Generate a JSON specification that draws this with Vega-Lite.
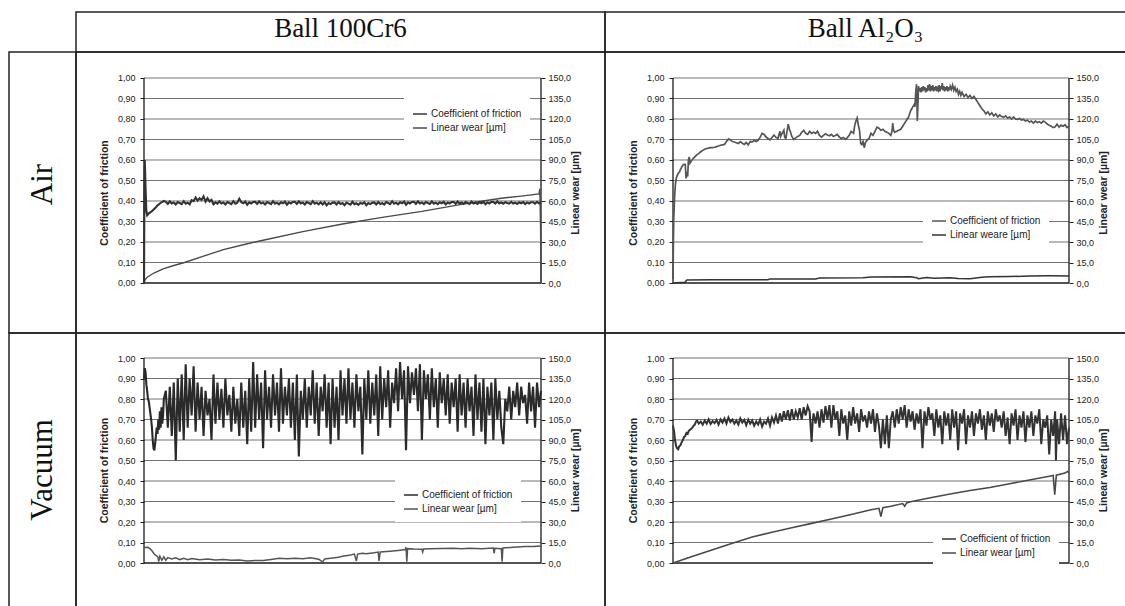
{
"$schema": "https://vega.github.io/schema/vega-lite/v6.json",
"background": "white",
"padding": {"left": 8, "top": 11, "right": -2, "bottom": -2},
"spacing": 0,
"bounds": "flush",
"columns": 3,
"resolve": {"scale": {"color": "independent"}, "legend": {"color": "independent"}},
"config": {
 "locale": {"number": {"decimal": ",", "thousands": " ", "grouping": [3], "currency": ["", ""]}},
 "font": "Liberation Sans",
 "axis": {"labelFont": "Liberation Sans", "labelFontSize": 9, "labelColor": "#222", "titleFont": "Liberation Sans", "titleFontSize": 10.5, "titleFontWeight": "bold", "titleColor": "#222", "tickColor": "#222", "tickWidth": 1, "domain": false, "grid": false},
 "legend": {"orient": "none", "title": null, "symbolType": "stroke", "symbolStrokeWidth": 1.5, "symbolSize": 196, "labelFont": "Liberation Sans", "labelFontSize": 10, "labelColor": "#222", "fillColor": "white", "padding": 8, "rowPadding": 1, "labelOffset": 3}
},
"datasets": {
 "grid": [{"g":0.1},{"g":0.2},{"g":0.3},{"g":0.4},{"g":0.5},{"g":0.6},{"g":0.7},{"g":0.8},{"g":0.9},{"g":1}],
 "cAC": [{"d":0,"v":0},{"d":1,"v":0.45},{"d":2,"v":0.6},{"d":4,"v":0.46},{"d":6,"v":0.35},{"d":8,"v":0.33},{"d":12,"v":0.34},{"d":16,"v":0.345},{"d":20,"v":0.35},{"d":25,"v":0.36},{"d":30,"v":0.37},{"d":35,"v":0.38},{"d":40,"v":0.388},{"d":45,"v":0.395},{"d":50,"v":0.4},
  {"d":55,"v":0.396},{"d":60,"v":0.386},{"d":65,"v":0.398},{"d":70,"v":0.388},{"d":75,"v":0.393},{"d":80,"v":0.383},{"d":85,"v":0.395},{"d":90,"v":0.39},{"d":95,"v":0.385},{"d":100,"v":0.399},
  {"d":105,"v":0.387},{"d":110,"v":0.392},{"d":115,"v":0.384},{"d":120,"v":0.404},{"d":125,"v":0.399},{"d":130,"v":0.417},{"d":135,"v":0.402},{"d":140,"v":0.413},{"d":145,"v":0.405},{"d":150,"v":0.422},
  {"d":155,"v":0.397},{"d":160,"v":0.413},{"d":165,"v":0.398},{"d":170,"v":0.405},{"d":175,"v":0.384},{"d":180,"v":0.393},{"d":185,"v":0.387},{"d":190,"v":0.398},{"d":195,"v":0.388},{"d":200,"v":0.393},
  {"d":205,"v":0.383},{"d":210,"v":0.395},{"d":215,"v":0.39},{"d":220,"v":0.385},{"d":225,"v":0.399},{"d":230,"v":0.387},{"d":235,"v":0.392},{"d":240,"v":0.411},{"d":245,"v":0.394},{"d":250,"v":0.389},
  {"d":255,"v":0.397},{"d":260,"v":0.382},{"d":265,"v":0.393},{"d":270,"v":0.388},{"d":275,"v":0.395},{"d":280,"v":0.396},{"d":285,"v":0.386},{"d":290,"v":0.398},{"d":295,"v":0.388},{"d":300,"v":0.393},
  {"d":305,"v":0.383},{"d":310,"v":0.395},{"d":315,"v":0.39},{"d":320,"v":0.385},{"d":325,"v":0.399},{"d":330,"v":0.387},{"d":335,"v":0.392},{"d":340,"v":0.384},{"d":345,"v":0.394},{"d":350,"v":0.389},
  {"d":355,"v":0.397},{"d":360,"v":0.382},{"d":365,"v":0.393},{"d":370,"v":0.388},{"d":375,"v":0.395},{"d":380,"v":0.396},{"d":385,"v":0.386},{"d":390,"v":0.398},{"d":395,"v":0.388},{"d":400,"v":0.393},
  {"d":405,"v":0.383},{"d":410,"v":0.395},{"d":415,"v":0.39},{"d":420,"v":0.385},{"d":425,"v":0.399},{"d":430,"v":0.387},{"d":435,"v":0.392},{"d":440,"v":0.384},{"d":445,"v":0.394},{"d":450,"v":0.383},
  {"d":455,"v":0.394},{"d":460,"v":0.379},{"d":465,"v":0.39},{"d":470,"v":0.385},{"d":475,"v":0.392},{"d":480,"v":0.393},{"d":485,"v":0.383},{"d":490,"v":0.395},{"d":495,"v":0.385},{"d":500,"v":0.39},
  {"d":505,"v":0.38},{"d":510,"v":0.392},{"d":515,"v":0.387},{"d":520,"v":0.382},{"d":525,"v":0.396},{"d":530,"v":0.384},{"d":535,"v":0.389},{"d":540,"v":0.381},{"d":545,"v":0.391},{"d":550,"v":0.386},
  {"d":555,"v":0.394},{"d":560,"v":0.379},{"d":565,"v":0.39},{"d":570,"v":0.385},{"d":575,"v":0.392},{"d":580,"v":0.393},{"d":585,"v":0.383},{"d":590,"v":0.395},{"d":595,"v":0.385},{"d":600,"v":0.39},
  {"d":605,"v":0.383},{"d":610,"v":0.395},{"d":615,"v":0.39},{"d":620,"v":0.385},{"d":625,"v":0.399},{"d":630,"v":0.387},{"d":635,"v":0.392},{"d":640,"v":0.384},{"d":645,"v":0.394},{"d":650,"v":0.389},
  {"d":655,"v":0.397},{"d":660,"v":0.382},{"d":665,"v":0.393},{"d":670,"v":0.388},{"d":675,"v":0.395},{"d":680,"v":0.396},{"d":685,"v":0.386},{"d":690,"v":0.398},{"d":695,"v":0.388},{"d":700,"v":0.393},
  {"d":705,"v":0.385},{"d":710,"v":0.395},{"d":715,"v":0.39},{"d":720,"v":0.386},{"d":725,"v":0.398},{"d":730,"v":0.387},{"d":735,"v":0.392},{"d":740,"v":0.385},{"d":745,"v":0.394},{"d":750,"v":0.389},
  {"d":755,"v":0.396},{"d":760,"v":0.383},{"d":765,"v":0.393},{"d":770,"v":0.388},{"d":775,"v":0.395},{"d":780,"v":0.395},{"d":785,"v":0.386},{"d":790,"v":0.397},{"d":795,"v":0.388},{"d":800,"v":0.393},
  {"d":805,"v":0.386},{"d":810,"v":0.395},{"d":815,"v":0.39},{"d":820,"v":0.386},{"d":825,"v":0.397},{"d":830,"v":0.388},{"d":835,"v":0.392},{"d":840,"v":0.386},{"d":845,"v":0.394},{"d":850,"v":0.389},
  {"d":855,"v":0.396},{"d":860,"v":0.384},{"d":865,"v":0.393},{"d":870,"v":0.388},{"d":875,"v":0.395},{"d":880,"v":0.395},{"d":885,"v":0.387},{"d":890,"v":0.398},{"d":895,"v":0.388},{"d":900,"v":0.393},
  {"d":905,"v":0.387},{"d":910,"v":0.394},{"d":915,"v":0.39},{"d":920,"v":0.387},{"d":925,"v":0.396},{"d":930,"v":0.388},{"d":935,"v":0.392},{"d":940,"v":0.386},{"d":945,"v":0.394},{"d":950,"v":0.389},
  {"d":955,"v":0.395},{"d":960,"v":0.385},{"d":965,"v":0.393},{"d":970,"v":0.388},{"d":975,"v":0.394},{"d":980,"v":0.394},{"d":985,"v":0.387},{"d":990,"v":0.396},{"d":995,"v":0.389},{"d":1000,"v":0.392}],
 "wAC": [{"d":0,"v":0},{"d":3,"v":2.5},{"d":8,"v":4.2},{"d":15,"v":5.5},{"d":25,"v":7.3},{"d":40,"v":9.2},{"d":50,"v":10.5},{"d":75,"v":12.8},{"d":100,"v":14.8},{"d":150,"v":19.7},{"d":200,"v":24.4},{"d":250,"v":28},{"d":300,"v":31.3},{"d":400,"v":37.6},{"d":500,"v":43.2},{"d":600,"v":48},{"d":700,"v":52.4},{"d":800,"v":57.5},{"d":850,"v":59.8},{"d":900,"v":62},{"d":950,"v":63.6},{"d":995,"v":65.2},{"d":997,"v":69},{"d":999,"v":40},{"d":1000,"v":0}],
 "cAA": [{"d":0,"v":0.02},{"d":1,"v":0.2},{"d":2,"v":0.32},{"d":4,"v":0.42},{"d":6,"v":0.48},{"d":8,"v":0.51},{"d":10,"v":0.52},{"d":13,"v":0.535},{"d":16,"v":0.54},{"d":19,"v":0.555},{"d":22,"v":0.565},{"d":25,"v":0.575},{"d":28,"v":0.58},{"d":31,"v":0.578},{"d":33,"v":0.51},{"d":35,"v":0.53},{"d":37,"v":0.52},{"d":39,"v":0.6},{"d":41,"v":0.615},{"d":43,"v":0.585},{"d":46,"v":0.595},{"d":50,"v":0.605},{"d":55,"v":0.615},{"d":60,"v":0.625},{"d":65,"v":0.632},{"d":70,"v":0.64},{"d":75,"v":0.647},{"d":80,"v":0.652},{"d":85,"v":0.656},{"d":90,"v":0.658},{"d":95,"v":0.66},{"d":100,"v":0.66},{"d":105,"v":0.662},{"d":110,"v":0.665},{"d":115,"v":0.668},{"d":120,"v":0.672},{"d":125,"v":0.674},{"d":130,"v":0.676},{"d":135,"v":0.69},{"d":140,"v":0.703},{"d":145,"v":0.698},{"d":150,"v":0.69},{"d":155,"v":0.688},{"d":160,"v":0.684},{"d":165,"v":0.68},{"d":170,"v":0.69},{"d":175,"v":0.682},{"d":180,"v":0.676},{"d":185,"v":0.685},{"d":190,"v":0.674},{"d":195,"v":0.69},{"d":200,"v":0.688},{"d":205,"v":0.695},{"d":210,"v":0.69},{"d":215,"v":0.696},{"d":220,"v":0.71},{"d":225,"v":0.73},{"d":230,"v":0.725},{"d":235,"v":0.712},{"d":240,"v":0.705},{"d":245,"v":0.698},{"d":250,"v":0.71},{"d":255,"v":0.722},{"d":260,"v":0.71},{"d":265,"v":0.705},{"d":270,"v":0.74},{"d":272,"v":0.715},{"d":275,"v":0.728},{"d":280,"v":0.745},{"d":282,"v":0.71},{"d":285,"v":0.705},{"d":288,"v":0.74},{"d":291,"v":0.775},{"d":294,"v":0.75},{"d":297,"v":0.735},{"d":300,"v":0.715},{"d":305,"v":0.7},{"d":310,"v":0.708},{"d":315,"v":0.715},{"d":320,"v":0.72},{"d":325,"v":0.735},{"d":330,"v":0.745},{"d":335,"v":0.73},{"d":340,"v":0.725},{"d":345,"v":0.74},{"d":350,"v":0.73},{"d":355,"v":0.735},{"d":360,"v":0.73},{"d":365,"v":0.74},{"d":370,"v":0.72},{"d":375,"v":0.712},{"d":380,"v":0.72},{"d":385,"v":0.728},{"d":390,"v":0.722},{"d":395,"v":0.718},{"d":400,"v":0.725},{"d":405,"v":0.715},{"d":410,"v":0.72},{"d":415,"v":0.725},{"d":420,"v":0.712},{"d":425,"v":0.705},{"d":430,"v":0.71},{"d":435,"v":0.702},{"d":440,"v":0.708},{"d":445,"v":0.72},{"d":450,"v":0.74},{"d":453,"v":0.735},{"d":456,"v":0.73},{"d":459,"v":0.77},{"d":462,"v":0.79},{"d":465,"v":0.805},{"d":468,"v":0.77},{"d":471,"v":0.745},{"d":474,"v":0.68},{"d":477,"v":0.675},{"d":480,"v":0.69},{"d":483,"v":0.66},{"d":486,"v":0.685},{"d":489,"v":0.695},{"d":492,"v":0.7},{"d":495,"v":0.705},{"d":500,"v":0.73},{"d":505,"v":0.72},{"d":510,"v":0.74},{"d":515,"v":0.76},{"d":520,"v":0.755},{"d":525,"v":0.745},{"d":530,"v":0.75},{"d":535,"v":0.74},{"d":540,"v":0.735},{"d":545,"v":0.73},{"d":550,"v":0.72},{"d":553,"v":0.74},{"d":555,"v":0.78},{"d":557,"v":0.745},{"d":560,"v":0.735},{"d":565,"v":0.74},{"d":570,"v":0.745},{"d":575,"v":0.75},{"d":580,"v":0.765},{"d":585,"v":0.78},{"d":590,"v":0.795},{"d":595,"v":0.81},{"d":600,"v":0.84},{"d":603,"v":0.85},{"d":606,"v":0.86},{"d":609,"v":0.87},{"d":611,"v":0.86},{"d":613,"v":0.93},{"d":615,"v":0.97},{"d":617,"v":0.79},{"d":618,"v":0.84},{"d":620,"v":0.96},{"d":622,"v":0.935},{"d":624,"v":0.95},{"d":626,"v":0.93},{"d":628,"v":0.955},{"d":630,"v":0.935},{"d":632,"v":0.96},{"d":634,"v":0.94},{"d":636,"v":0.955},{"d":638,"v":0.93},{"d":640,"v":0.95},{"d":642,"v":0.935},{"d":644,"v":0.965},{"d":646,"v":0.94},{"d":648,"v":0.97},{"d":650,"v":0.935},{"d":652,"v":0.96},{"d":654,"v":0.94},{"d":656,"v":0.965},{"d":658,"v":0.935},{"d":660,"v":0.955},{"d":662,"v":0.94},{"d":664,"v":0.96},{"d":666,"v":0.935},{"d":668,"v":0.95},{"d":670,"v":0.94},{"d":672,"v":0.965},{"d":674,"v":0.935},{"d":676,"v":0.96},{"d":678,"v":0.945},{"d":680,"v":0.975},{"d":682,"v":0.94},{"d":684,"v":0.96},{"d":686,"v":0.935},{"d":688,"v":0.955},{"d":690,"v":0.94},{"d":692,"v":0.96},{"d":694,"v":0.935},{"d":696,"v":0.955},{"d":698,"v":0.94},{"d":700,"v":0.96},{"d":703,"v":0.945},{"d":706,"v":0.965},{"d":709,"v":0.94},{"d":712,"v":0.955},{"d":715,"v":0.935},{"d":718,"v":0.945},{"d":721,"v":0.92},{"d":724,"v":0.935},{"d":727,"v":0.915},{"d":730,"v":0.93},{"d":735,"v":0.91},{"d":740,"v":0.92},{"d":745,"v":0.905},{"d":750,"v":0.915},{"d":755,"v":0.9},{"d":760,"v":0.91},{"d":765,"v":0.895},{"d":770,"v":0.88},{"d":775,"v":0.865},{"d":780,"v":0.85},{"d":785,"v":0.84},{"d":790,"v":0.825},{"d":795,"v":0.835},{"d":800,"v":0.82},{"d":805,"v":0.83},{"d":810,"v":0.815},{"d":815,"v":0.825},{"d":820,"v":0.81},{"d":825,"v":0.82},{"d":830,"v":0.812},{"d":835,"v":0.808},{"d":840,"v":0.815},{"d":845,"v":0.805},{"d":850,"v":0.81},{"d":855,"v":0.8},{"d":860,"v":0.81},{"d":865,"v":0.8},{"d":870,"v":0.798},{"d":875,"v":0.802},{"d":880,"v":0.795},{"d":885,"v":0.798},{"d":890,"v":0.79},{"d":895,"v":0.794},{"d":900,"v":0.785},{"d":905,"v":0.79},{"d":910,"v":0.78},{"d":915,"v":0.79},{"d":920,"v":0.783},{"d":925,"v":0.787},{"d":930,"v":0.78},{"d":935,"v":0.79},{"d":940,"v":0.785},{"d":945,"v":0.775},{"d":950,"v":0.77},{"d":955,"v":0.765},{"d":960,"v":0.758},{"d":965,"v":0.762},{"d":970,"v":0.775},{"d":975,"v":0.76},{"d":980,"v":0.77},{"d":985,"v":0.765},{"d":990,"v":0.772},{"d":995,"v":0.758},{"d":1000,"v":0.765}],
 "wAA": [{"d":0,"v":0},{"d":30,"v":0.6},{"d":35,"v":2.2},{"d":100,"v":2.3},{"d":240,"v":2.4},{"d":245,"v":3},{"d":360,"v":3},{"d":370,"v":3.7},{"d":480,"v":3.8},{"d":500,"v":4.4},{"d":600,"v":4.5},{"d":615,"v":3.9},{"d":620,"v":3.2},{"d":640,"v":4},{"d":660,"v":3.5},{"d":700,"v":3.8},{"d":720,"v":3.3},{"d":750,"v":3.2},{"d":780,"v":4.2},{"d":800,"v":4.5},{"d":850,"v":4.7},{"d":900,"v":5.1},{"d":950,"v":5.3},{"d":1000,"v":5.2}],
 "cVC": [{"d":0,"v":0.9},{"d":2,"v":0.95},{"d":4,"v":0.93},{"d":6,"v":0.87},{"d":8,"v":0.84},{"d":10,"v":0.8},{"d":12,"v":0.79},{"d":14,"v":0.76},{"d":16,"v":0.73},{"d":18,"v":0.7},{"d":20,"v":0.66},{"d":22,"v":0.6},{"d":24,"v":0.56},{"d":26,"v":0.55},{"d":28,"v":0.58},{"d":30,"v":0.62},{"d":32,"v":0.66},{"d":34,"v":0.63},{"d":36,"v":0.7},{"d":38,"v":0.65},{"d":40,"v":0.74},{"d":42,"v":0.66},{"d":44,"v":0.76},{"d":46,"v":0.68},{"d":48,"v":0.72},{"d":50,"v":0.8},
  {"d":55,"v":0.84},{"d":60,"v":0.66},{"d":65,"v":0.86},{"d":70,"v":0.62},{"d":75,"v":0.88},{"d":80,"v":0.5},{"d":85,"v":0.9},{"d":90,"v":0.64},{"d":95,"v":0.92},{"d":100,"v":0.6},
  {"d":105,"v":0.97},{"d":110,"v":0.66},{"d":115,"v":0.9},{"d":120,"v":0.72},{"d":125,"v":0.96},{"d":130,"v":0.64},{"d":135,"v":0.88},{"d":140,"v":0.7},{"d":145,"v":0.86},{"d":150,"v":0.62},
  {"d":155,"v":0.84},{"d":160,"v":0.72},{"d":165,"v":0.8},{"d":170,"v":0.6},{"d":175,"v":0.92},{"d":180,"v":0.68},{"d":185,"v":0.88},{"d":190,"v":0.7},{"d":195,"v":0.85},{"d":200,"v":0.66},
  {"d":205,"v":0.9},{"d":210,"v":0.72},{"d":215,"v":0.82},{"d":220,"v":0.64},{"d":225,"v":0.86},{"d":230,"v":0.68},{"d":235,"v":0.8},{"d":240,"v":0.62},{"d":245,"v":0.88},{"d":250,"v":0.66},
  {"d":255,"v":0.84},{"d":260,"v":0.58},{"d":265,"v":0.9},{"d":270,"v":0.64},{"d":275,"v":0.98},{"d":280,"v":0.66},{"d":285,"v":0.92},{"d":290,"v":0.7},{"d":295,"v":0.88},{"d":300,"v":0.56},
  {"d":305,"v":0.94},{"d":310,"v":0.7},{"d":315,"v":0.86},{"d":320,"v":0.66},{"d":325,"v":0.92},{"d":330,"v":0.72},{"d":335,"v":0.88},{"d":340,"v":0.64},{"d":345,"v":0.95},{"d":350,"v":0.68},
  {"d":355,"v":0.86},{"d":360,"v":0.72},{"d":365,"v":0.9},{"d":370,"v":0.66},{"d":375,"v":0.88},{"d":380,"v":0.6},{"d":385,"v":0.92},{"d":390,"v":0.52},{"d":395,"v":0.84},{"d":400,"v":0.7},
  {"d":405,"v":0.9},{"d":410,"v":0.66},{"d":415,"v":0.86},{"d":420,"v":0.72},{"d":425,"v":0.94},{"d":430,"v":0.68},{"d":435,"v":0.88},{"d":440,"v":0.62},{"d":445,"v":0.86},{"d":450,"v":0.74},
  {"d":455,"v":0.92},{"d":460,"v":0.66},{"d":465,"v":0.88},{"d":470,"v":0.58},{"d":475,"v":0.9},{"d":480,"v":0.66},{"d":485,"v":0.86},{"d":490,"v":0.6},{"d":495,"v":0.94},{"d":500,"v":0.72},
  {"d":505,"v":0.9},{"d":510,"v":0.68},{"d":515,"v":0.95},{"d":520,"v":0.7},{"d":525,"v":0.88},{"d":530,"v":0.66},{"d":535,"v":0.92},{"d":540,"v":0.74},{"d":545,"v":0.86},{"d":550,"v":0.53},
  {"d":555,"v":0.9},{"d":560,"v":0.7},{"d":565,"v":0.94},{"d":570,"v":0.68},{"d":575,"v":0.88},{"d":580,"v":0.72},{"d":585,"v":0.92},{"d":590,"v":0.62},{"d":595,"v":0.96},{"d":600,"v":0.7},
  {"d":605,"v":0.9},{"d":610,"v":0.76},{"d":615,"v":0.94},{"d":620,"v":0.66},{"d":625,"v":0.88},{"d":630,"v":0.78},{"d":635,"v":0.95},{"d":640,"v":0.74},{"d":645,"v":0.98},{"d":650,"v":0.8},
  {"d":655,"v":0.94},{"d":660,"v":0.55},{"d":665,"v":0.96},{"d":670,"v":0.78},{"d":675,"v":0.93},{"d":680,"v":0.82},{"d":685,"v":0.95},{"d":690,"v":0.74},{"d":695,"v":0.97},{"d":700,"v":0.6},
  {"d":705,"v":0.94},{"d":710,"v":0.8},{"d":715,"v":0.92},{"d":720,"v":0.7},{"d":725,"v":0.95},{"d":730,"v":0.76},{"d":735,"v":0.9},{"d":740,"v":0.66},{"d":745,"v":0.93},{"d":750,"v":0.78},
  {"d":755,"v":0.9},{"d":760,"v":0.72},{"d":765,"v":0.92},{"d":770,"v":0.68},{"d":775,"v":0.88},{"d":780,"v":0.76},{"d":785,"v":0.9},{"d":790,"v":0.64},{"d":795,"v":0.92},{"d":800,"v":0.72},
  {"d":805,"v":0.88},{"d":810,"v":0.66},{"d":815,"v":0.9},{"d":820,"v":0.74},{"d":825,"v":0.86},{"d":830,"v":0.62},{"d":835,"v":0.92},{"d":840,"v":0.7},{"d":845,"v":0.88},{"d":850,"v":0.64},
  {"d":855,"v":0.9},{"d":860,"v":0.58},{"d":865,"v":0.86},{"d":870,"v":0.72},{"d":875,"v":0.88},{"d":880,"v":0.6},{"d":885,"v":0.9},{"d":890,"v":0.7},{"d":895,"v":0.84},{"d":900,"v":0.66},
  {"d":905,"v":0.58},{"d":910,"v":0.8},{"d":915,"v":0.74},{"d":920,"v":0.86},{"d":925,"v":0.7},{"d":930,"v":0.84},{"d":935,"v":0.76},{"d":940,"v":0.88},{"d":945,"v":0.72},{"d":950,"v":0.86},
  {"d":955,"v":0.78},{"d":960,"v":0.82},{"d":965,"v":0.68},{"d":970,"v":0.88},{"d":975,"v":0.74},{"d":980,"v":0.86},{"d":985,"v":0.66},{"d":990,"v":0.88},{"d":995,"v":0.76},{"d":1000,"v":0.84}],
 "wVC": [{"d":0,"v":11.3},{"d":10,"v":11.5},{"d":15,"v":10.5},{"d":20,"v":9},{"d":25,"v":7},{"d":30,"v":5.5},{"d":35,"v":4.5},{"d":37,"v":1},{"d":40,"v":5},{"d":45,"v":2},{"d":50,"v":4.5},{"d":55,"v":2},{"d":60,"v":4},{"d":70,"v":3},{"d":80,"v":3.8},{"d":90,"v":2.5},{"d":100,"v":3.5},{"d":110,"v":2.4},{"d":120,"v":3.3},{"d":140,"v":2.4},{"d":160,"v":3},{"d":180,"v":2.2},{"d":200,"v":2.6},{"d":220,"v":2},{"d":240,"v":2.2},{"d":260,"v":1.4},{"d":280,"v":1.8},{"d":300,"v":1.8},{"d":320,"v":2.6},{"d":340,"v":3.5},{"d":360,"v":3.2},{"d":380,"v":3.5},{"d":400,"v":3.2},{"d":420,"v":3.8},{"d":440,"v":2.8},{"d":450,"v":0.8},{"d":455,"v":3},{"d":470,"v":3.5},{"d":490,"v":4.2},{"d":500,"v":5},{"d":520,"v":5.8},{"d":530,"v":6.5},{"d":535,"v":1.5},{"d":538,"v":6.5},{"d":550,"v":7.2},{"d":560,"v":6.8},{"d":580,"v":7.5},{"d":590,"v":8},{"d":592,"v":1.5},{"d":595,"v":8},{"d":620,"v":8.6},{"d":640,"v":9.2},{"d":658,"v":9.8},{"d":660,"v":11.5},{"d":662,"v":1},{"d":664,"v":10.5},{"d":680,"v":10.2},{"d":700,"v":10},{"d":702,"v":8},{"d":704,"v":10.2},{"d":720,"v":10.5},{"d":750,"v":10.6},{"d":780,"v":10.8},{"d":800,"v":10.5},{"d":820,"v":10.8},{"d":850,"v":10.5},{"d":880,"v":11},{"d":882,"v":7},{"d":884,"v":10.8},{"d":900,"v":10.5},{"d":902,"v":1},{"d":904,"v":11},{"d":930,"v":11.5},{"d":960,"v":12},{"d":980,"v":12},{"d":1000,"v":12.5}],
 "cVA": [{"d":0,"v":0.67},{"d":3,"v":0.64},{"d":5,"v":0.6},{"d":8,"v":0.57},{"d":10,"v":0.56},{"d":13,"v":0.555},{"d":16,"v":0.57},{"d":19,"v":0.575},{"d":22,"v":0.59},{"d":25,"v":0.6},{"d":28,"v":0.615},{"d":31,"v":0.62},{"d":34,"v":0.635},{"d":37,"v":0.63},{"d":40,"v":0.645},{"d":43,"v":0.65},{"d":46,"v":0.655},{"d":49,"v":0.66},{"d":52,"v":0.67},{"d":55,"v":0.675},{"d":58,"v":0.69},{"d":61,"v":0.695},{"d":65,"v":0.68},
  {"d":70,"v":0.69},{"d":75,"v":0.675},{"d":80,"v":0.695},{"d":85,"v":0.68},{"d":90,"v":0.7},{"d":95,"v":0.678},{"d":100,"v":0.692},{"d":105,"v":0.682},{"d":110,"v":0.698},{"d":115,"v":0.675},
  {"d":120,"v":0.7},{"d":125,"v":0.685},{"d":130,"v":0.705},{"d":135,"v":0.68},{"d":140,"v":0.71},{"d":145,"v":0.688},{"d":150,"v":0.7},{"d":155,"v":0.68},{"d":160,"v":0.695},{"d":165,"v":0.675},
  {"d":170,"v":0.705},{"d":175,"v":0.685},{"d":180,"v":0.698},{"d":185,"v":0.672},{"d":190,"v":0.7},{"d":195,"v":0.68},{"d":200,"v":0.695},{"d":205,"v":0.67},{"d":210,"v":0.69},{"d":215,"v":0.675},
  {"d":220,"v":0.7},{"d":225,"v":0.665},{"d":230,"v":0.69},{"d":235,"v":0.68},{"d":240,"v":0.705},{"d":245,"v":0.67},{"d":250,"v":0.71},{"d":255,"v":0.685},{"d":260,"v":0.72},{"d":265,"v":0.68},
  {"d":270,"v":0.73},{"d":275,"v":0.69},{"d":280,"v":0.74},{"d":285,"v":0.7},{"d":290,"v":0.745},{"d":295,"v":0.695},{"d":300,"v":0.75},{"d":305,"v":0.7},{"d":310,"v":0.74},{"d":315,"v":0.71},
  {"d":320,"v":0.755},{"d":325,"v":0.7},{"d":330,"v":0.76},{"d":335,"v":0.72},{"d":340,"v":0.765},{"d":345,"v":0.74},{"d":350,"v":0.59},{"d":353,"v":0.7},{"d":355,"v":0.73},{"d":360,"v":0.68},
  {"d":365,"v":0.74},{"d":370,"v":0.66},{"d":375,"v":0.75},{"d":380,"v":0.685},{"d":385,"v":0.765},{"d":390,"v":0.7},{"d":395,"v":0.77},{"d":400,"v":0.66},{"d":405,"v":0.77},{"d":410,"v":0.7},
  {"d":415,"v":0.74},{"d":420,"v":0.62},{"d":425,"v":0.75},{"d":430,"v":0.68},{"d":435,"v":0.72},{"d":440,"v":0.6},{"d":445,"v":0.74},{"d":450,"v":0.67},{"d":455,"v":0.76},{"d":460,"v":0.68},
  {"d":465,"v":0.73},{"d":470,"v":0.64},{"d":475,"v":0.75},{"d":480,"v":0.69},{"d":485,"v":0.72},{"d":490,"v":0.66},{"d":495,"v":0.74},{"d":500,"v":0.68},{"d":505,"v":0.75},{"d":510,"v":0.64},
  {"d":515,"v":0.73},{"d":520,"v":0.67},{"d":525,"v":0.56},{"d":530,"v":0.7},{"d":535,"v":0.58},{"d":540,"v":0.72},{"d":545,"v":0.56},{"d":550,"v":0.7},{"d":555,"v":0.74},{"d":560,"v":0.66},
  {"d":565,"v":0.75},{"d":570,"v":0.68},{"d":575,"v":0.76},{"d":580,"v":0.7},{"d":585,"v":0.77},{"d":590,"v":0.66},{"d":595,"v":0.75},{"d":600,"v":0.69},{"d":605,"v":0.74},{"d":610,"v":0.65},
  {"d":615,"v":0.73},{"d":620,"v":0.68},{"d":625,"v":0.75},{"d":630,"v":0.56},{"d":635,"v":0.74},{"d":640,"v":0.67},{"d":645,"v":0.76},{"d":650,"v":0.7},{"d":655,"v":0.73},{"d":660,"v":0.62},
  {"d":665,"v":0.75},{"d":670,"v":0.66},{"d":675,"v":0.72},{"d":680,"v":0.58},{"d":685,"v":0.74},{"d":690,"v":0.67},{"d":695,"v":0.73},{"d":700,"v":0.6},{"d":705,"v":0.75},{"d":710,"v":0.66},
  {"d":715,"v":0.74},{"d":720,"v":0.55},{"d":725,"v":0.73},{"d":730,"v":0.68},{"d":735,"v":0.75},{"d":740,"v":0.58},{"d":745,"v":0.72},{"d":750,"v":0.66},{"d":755,"v":0.74},{"d":760,"v":0.62},
  {"d":765,"v":0.73},{"d":770,"v":0.68},{"d":775,"v":0.75},{"d":780,"v":0.65},{"d":785,"v":0.72},{"d":790,"v":0.6},{"d":795,"v":0.74},{"d":800,"v":0.67},{"d":805,"v":0.73},{"d":810,"v":0.64},
  {"d":815,"v":0.75},{"d":820,"v":0.69},{"d":825,"v":0.72},{"d":830,"v":0.66},{"d":835,"v":0.74},{"d":840,"v":0.62},{"d":845,"v":0.71},{"d":850,"v":0.58},{"d":855,"v":0.73},{"d":860,"v":0.67},
  {"d":865,"v":0.75},{"d":870,"v":0.6},{"d":875,"v":0.72},{"d":880,"v":0.66},{"d":885,"v":0.74},{"d":890,"v":0.59},{"d":895,"v":0.72},{"d":900,"v":0.66},{"d":905,"v":0.74},{"d":910,"v":0.62},
  {"d":915,"v":0.72},{"d":920,"v":0.68},{"d":925,"v":0.75},{"d":930,"v":0.58},{"d":935,"v":0.7},{"d":940,"v":0.66},{"d":945,"v":0.72},{"d":950,"v":0.53},{"d":955,"v":0.7},{"d":960,"v":0.62},
  {"d":965,"v":0.74},{"d":967,"v":0.5},{"d":970,"v":0.7},{"d":975,"v":0.58},{"d":980,"v":0.73},{"d":985,"v":0.6},{"d":990,"v":0.72},{"d":995,"v":0.58},{"d":1000,"v":0.66}],
 "wVA": [{"d":0,"v":0},{"d":50,"v":5},{"d":100,"v":9.7},{"d":150,"v":14.5},{"d":200,"v":19},{"d":250,"v":22.5},{"d":300,"v":25.8},{"d":350,"v":29},{"d":400,"v":32.2},{"d":450,"v":35.5},{"d":500,"v":39},{"d":520,"v":40},{"d":525,"v":34},{"d":530,"v":40.5},{"d":550,"v":41.5},{"d":580,"v":43.5},{"d":585,"v":41.5},{"d":590,"v":44},{"d":600,"v":44.8},{"d":650,"v":47.8},{"d":700,"v":50.5},{"d":750,"v":53},{"d":800,"v":55.3},{"d":850,"v":58},{"d":900,"v":60.7},{"d":950,"v":63.5},{"d":960,"v":64},{"d":964,"v":50},{"d":968,"v":64.3},{"d":990,"v":65.8},{"d":996,"v":67},{"d":1000,"v":66}]
},
"concat": [
   {"width": 67, "height": 40, "view": {"stroke": null}, "data": {"values": [{"t": ""}]}, "mark": {"type": "text"}, "encoding": {"text": {"field": "t"}}},
   {"width": 529, "height": 40, "view": {"stroke": "#222", "strokeWidth": 1.5}, "data": {"values": [{"t": "Ball 100Cr6"}]}, "mark": {"type": "text", "font": "Liberation Serif", "fontSize": 27, "color": "#111", "baseline": "middle", "align": "center", "dy": -3}, "encoding": {"text": {"field": "t"}}},
   {"width": 521, "height": 40, "view": {"stroke": "#222", "strokeWidth": 1.5}, "data": {"values": [{"t": "Ball Al₂O₃"}]}, "mark": {"type": "text", "font": "Liberation Serif", "fontSize": 27, "color": "#111", "baseline": "middle", "align": "center", "dy": -3}, "encoding": {"text": {"field": "t"}}},
   {"width": 67, "height": 281, "view": {"stroke": "#222", "strokeWidth": 1.5}, "data": {"values": [{"t": "Air"}]}, "mark": {"type": "text", "font": "Liberation Serif", "fontSize": 31, "angle": 270, "color": "#111", "baseline": "middle", "align": "center", "dx": 8}, "encoding": {"text": {"field": "t"}}},
   {"width": 529, "height": 281, "view": {"stroke": "#222", "strokeWidth": 1.5},
    "resolve": {"scale": {"y": "independent"}},
    "layer": [
     {"data": {"name": "grid"}, "mark": {"type": "rule", "color": "#737373", "strokeWidth": 1},
      "encoding": {"y": {"field": "g", "type": "quantitative", "scale": {"domain": [-0.2439, 1.1268], "nice": false, "zero": false}, "axis": null},
       "x": {"datum": 0, "type": "quantitative", "scale": {"domain": [-171.28, 1161.21], "nice": false, "zero": false}, "axis": null}, "x2": {"datum": 1000}}},
     {"data": {"values": [{"k": 0}, {"k": 1000}]}, "mark": {"type": "rule", "color": "#1a1a1a", "strokeWidth": 1.3},
      "encoding": {"x": {"field": "k", "type": "quantitative", "scale": {"domain": [-171.28, 1161.21], "nice": false, "zero": false}, "axis": null},
       "y": {"datum": 0, "type": "quantitative", "scale": {"domain": [-0.2439, 1.1268], "nice": false, "zero": false}, "axis": null}, "y2": {"datum": 1}}},
     {"data": {"values": [{"k": 0}]}, "mark": {"type": "rule", "color": "#1a1a1a", "strokeWidth": 1.3},
      "encoding": {"y": {"field": "k", "type": "quantitative", "scale": {"domain": [-0.2439, 1.1268], "nice": false, "zero": false}, "axis": null},
       "x": {"datum": 0, "type": "quantitative", "scale": {"domain": [-171.28, 1161.21], "nice": false, "zero": false}, "axis": null}, "x2": {"datum": 1000}}},
     {"data": {"name": "wAC"}, "mark": {"type": "line", "strokeWidth": 1.4},
      "encoding": {"x": {"field": "d", "type": "quantitative", "scale": {"domain": [-171.28, 1161.21], "nice": false, "zero": false}, "axis": null},
       "y": {"field": "v", "type": "quantitative", "scale": {"domain": [-36.585, 169.024], "nice": false, "zero": false}, "axis": {"orient": "right", "values": [0,15,30,45,60,75,90,105,120,135,150], "format": ".1f", "title": "Linear wear  [µm]", "titleAngle": 270, "offset": -64, "tickSize": 4, "labelPadding": 3, "titlePadding": 10}},
       "color": {"datum": "Linear wear [µm]", "type": "nominal", "scale": {"domain": ["Coefficient of friction", "Linear wear [µm]"], "range": ["#333333", "#4a4a4a"]}}}},
     {"data": {"name": "cAC"}, "mark": {"type": "line", "strokeWidth": 2.1},
      "encoding": {"x": {"field": "d", "type": "quantitative", "scale": {"domain": [-171.28, 1161.21], "nice": false, "zero": false}, "axis": {"values": [0,100,200,300,400,500,600,700,800,900,1000], "format": ",d", "title": "Friction distance [m]", "offset": -50, "tickSize": 4, "labelPadding": 3, "titlePadding": 7}},
       "y": {"field": "v", "type": "quantitative", "scale": {"domain": [-0.2439, 1.1268], "nice": false, "zero": false}, "axis": {"values": [0,0.1,0.2,0.3,0.4,0.5,0.6,0.7,0.8,0.9,1], "format": ".2f", "title": "Coefficient of friction", "offset": -68, "tickSize": 4, "labelPadding": 5, "titlePadding": 8}},
       "color": {"datum": "Coefficient of friction", "type": "nominal", "scale": {"domain": ["Coefficient of friction", "Linear wear [µm]"], "range": ["#333333", "#4a4a4a"]}, "legend": {"legendX": 328, "legendY": 46}}}}
    ]},
   {"width": 521, "height": 281, "view": {"stroke": "#222", "strokeWidth": 1.5},
    "resolve": {"scale": {"y": "independent"}},
    "layer": [
     {"data": {"name": "grid"}, "mark": {"type": "rule", "color": "#737373", "strokeWidth": 1},
      "encoding": {"y": {"field": "g", "type": "quantitative", "scale": {"domain": [-0.2439, 1.1268], "nice": false, "zero": false}, "axis": null},
       "x": {"datum": 0, "type": "quantitative", "scale": {"domain": [-171.72, 1143.94], "nice": false, "zero": false}, "axis": null}, "x2": {"datum": 1000}}},
     {"data": {"values": [{"k": 0}, {"k": 1000}]}, "mark": {"type": "rule", "color": "#1a1a1a", "strokeWidth": 1.3},
      "encoding": {"x": {"field": "k", "type": "quantitative", "scale": {"domain": [-171.72, 1143.94], "nice": false, "zero": false}, "axis": null},
       "y": {"datum": 0, "type": "quantitative", "scale": {"domain": [-0.2439, 1.1268], "nice": false, "zero": false}, "axis": null}, "y2": {"datum": 1}}},
     {"data": {"values": [{"k": 0}]}, "mark": {"type": "rule", "color": "#1a1a1a", "strokeWidth": 1.3},
      "encoding": {"y": {"field": "k", "type": "quantitative", "scale": {"domain": [-0.2439, 1.1268], "nice": false, "zero": false}, "axis": null},
       "x": {"datum": 0, "type": "quantitative", "scale": {"domain": [-171.72, 1143.94], "nice": false, "zero": false}, "axis": null}, "x2": {"datum": 1000}}},
     {"data": {"name": "wAA"}, "mark": {"type": "line", "strokeWidth": 1.5},
      "encoding": {"x": {"field": "d", "type": "quantitative", "scale": {"domain": [-171.72, 1143.94], "nice": false, "zero": false}, "axis": null},
       "y": {"field": "v", "type": "quantitative", "scale": {"domain": [-36.585, 169.024], "nice": false, "zero": false}, "axis": {"orient": "right", "values": [0,15,30,45,60,75,90,105,120,135,150], "format": ".1f", "title": "Linear wear [µm]", "titleAngle": 270, "offset": -57, "tickSize": 4, "labelPadding": 3, "titlePadding": 10}},
       "color": {"datum": "Linear weare [µm]", "type": "nominal", "scale": {"domain": ["Coefficient of friction", "Linear weare [µm]"], "range": ["#555555", "#333333"]}}}},
     {"data": {"name": "cAA"}, "mark": {"type": "line", "strokeWidth": 1.7},
      "encoding": {"x": {"field": "d", "type": "quantitative", "scale": {"domain": [-171.72, 1143.94], "nice": false, "zero": false}, "axis": {"values": [0,100,200,300,400,500,600,700,800,900,1000], "format": ",d", "title": "Friction distance [m]", "offset": -50, "tickSize": 4, "labelPadding": 3, "titlePadding": 7}},
       "y": {"field": "v", "type": "quantitative", "scale": {"domain": [-0.2439, 1.1268], "nice": false, "zero": false}, "axis": {"values": [0,0.1,0.2,0.3,0.4,0.5,0.6,0.7,0.8,0.9,1], "format": ".2f", "title": "Coefficient of friction", "offset": -68, "tickSize": 4, "labelPadding": 5, "titlePadding": 8}},
       "color": {"datum": "Coefficient of friction", "type": "nominal", "scale": {"domain": ["Coefficient of friction", "Linear weare [µm]"], "range": ["#3a3a3a", "#333333"]}, "legend": {"legendX": 318, "legendY": 153}}}}
    ]},
   {"width": 67, "height": 274, "view": {"stroke": "#222", "strokeWidth": 1.5}, "data": {"values": [{"t": "Vacuum"}]}, "mark": {"type": "text", "font": "Liberation Serif", "fontSize": 31, "angle": 270, "color": "#111", "baseline": "middle", "align": "center"}, "encoding": {"text": {"field": "t"}}},
   {"width": 529, "height": 274, "view": {"stroke": "#222", "strokeWidth": 1.5},
    "resolve": {"scale": {"y": "independent"}},
    "layer": [
     {"data": {"name": "grid"}, "mark": {"type": "rule", "color": "#737373", "strokeWidth": 1},
      "encoding": {"y": {"field": "g", "type": "quantitative", "scale": {"domain": [-0.2146, 1.122], "nice": false, "zero": false}, "axis": null},
       "x": {"datum": 0, "type": "quantitative", "scale": {"domain": [-171.28, 1161.21], "nice": false, "zero": false}, "axis": null}, "x2": {"datum": 1000}}},
     {"data": {"values": [{"k": 0}, {"k": 1000}]}, "mark": {"type": "rule", "color": "#1a1a1a", "strokeWidth": 1.3},
      "encoding": {"x": {"field": "k", "type": "quantitative", "scale": {"domain": [-171.28, 1161.21], "nice": false, "zero": false}, "axis": null},
       "y": {"datum": 0, "type": "quantitative", "scale": {"domain": [-0.2146, 1.122], "nice": false, "zero": false}, "axis": null}, "y2": {"datum": 1}}},
     {"data": {"values": [{"k": 0}]}, "mark": {"type": "rule", "color": "#1a1a1a", "strokeWidth": 1.3},
      "encoding": {"y": {"field": "k", "type": "quantitative", "scale": {"domain": [-0.2146, 1.122], "nice": false, "zero": false}, "axis": null},
       "x": {"datum": 0, "type": "quantitative", "scale": {"domain": [-171.28, 1161.21], "nice": false, "zero": false}, "axis": null}, "x2": {"datum": 1000}}},
     {"data": {"name": "wVC"}, "mark": {"type": "line", "strokeWidth": 1.5},
      "encoding": {"x": {"field": "d", "type": "quantitative", "scale": {"domain": [-171.28, 1161.21], "nice": false, "zero": false}, "axis": null},
       "y": {"field": "v", "type": "quantitative", "scale": {"domain": [-32.195, 168.293], "nice": false, "zero": false}, "axis": {"orient": "right", "values": [0,15,30,45,60,75,90,105,120,135,150], "format": ".1f", "title": "Linear wear [µm]", "titleAngle": 270, "offset": -64, "tickSize": 4, "labelPadding": 3, "titlePadding": 10}},
       "color": {"datum": "Linear wear [µm]", "type": "nominal", "scale": {"domain": ["Coefficient of friction", "Linear wear [µm]"], "range": ["#2a2a2a", "#555555"]}}}},
     {"data": {"name": "cVC"}, "mark": {"type": "line", "strokeWidth": 2.1},
      "encoding": {"x": {"field": "d", "type": "quantitative", "scale": {"domain": [-171.28, 1161.21], "nice": false, "zero": false}, "axis": {"values": [0,100,200,300,400,500,600,700,800,900,1000], "format": ",d", "title": "Friction distance [m]", "offset": -44, "tickSize": 4, "labelPadding": 3, "titlePadding": 7}},
       "y": {"field": "v", "type": "quantitative", "scale": {"domain": [-0.2146, 1.122], "nice": false, "zero": false}, "axis": {"values": [0,0.1,0.2,0.3,0.4,0.5,0.6,0.7,0.8,0.9,1], "format": ".2f", "title": "Coefficient of friction", "offset": -68, "tickSize": 4, "labelPadding": 5, "titlePadding": 8}},
       "color": {"datum": "Coefficient of friction", "type": "nominal", "scale": {"domain": ["Coefficient of friction", "Linear wear [µm]"], "range": ["#2a2a2a", "#555555"]}, "legend": {"legendX": 319, "legendY": 146}}}}
    ]},
   {"width": 521, "height": 274, "view": {"stroke": "#222", "strokeWidth": 1.5},
    "resolve": {"scale": {"y": "independent"}},
    "layer": [
     {"data": {"name": "grid"}, "mark": {"type": "rule", "color": "#737373", "strokeWidth": 1},
      "encoding": {"y": {"field": "g", "type": "quantitative", "scale": {"domain": [-0.2146, 1.122], "nice": false, "zero": false}, "axis": null},
       "x": {"datum": 0, "type": "quantitative", "scale": {"domain": [-171.72, 1143.94], "nice": false, "zero": false}, "axis": null}, "x2": {"datum": 1000}}},
     {"data": {"values": [{"k": 0}, {"k": 1000}]}, "mark": {"type": "rule", "color": "#1a1a1a", "strokeWidth": 1.3},
      "encoding": {"x": {"field": "k", "type": "quantitative", "scale": {"domain": [-171.72, 1143.94], "nice": false, "zero": false}, "axis": null},
       "y": {"datum": 0, "type": "quantitative", "scale": {"domain": [-0.2146, 1.122], "nice": false, "zero": false}, "axis": null}, "y2": {"datum": 1}}},
     {"data": {"values": [{"k": 0}]}, "mark": {"type": "rule", "color": "#1a1a1a", "strokeWidth": 1.3},
      "encoding": {"y": {"field": "k", "type": "quantitative", "scale": {"domain": [-0.2146, 1.122], "nice": false, "zero": false}, "axis": null},
       "x": {"datum": 0, "type": "quantitative", "scale": {"domain": [-171.72, 1143.94], "nice": false, "zero": false}, "axis": null}, "x2": {"datum": 1000}}},
     {"data": {"name": "wVA"}, "mark": {"type": "line", "strokeWidth": 1.6},
      "encoding": {"x": {"field": "d", "type": "quantitative", "scale": {"domain": [-171.72, 1143.94], "nice": false, "zero": false}, "axis": null},
       "y": {"field": "v", "type": "quantitative", "scale": {"domain": [-32.195, 168.293], "nice": false, "zero": false}, "axis": {"orient": "right", "values": [0,15,30,45,60,75,90,105,120,135,150], "format": ".1f", "title": "Linear wear [µm]", "titleAngle": 270, "offset": -57, "tickSize": 4, "labelPadding": 3, "titlePadding": 10}},
       "color": {"datum": "Linear wear [µm]", "type": "nominal", "scale": {"domain": ["Coefficient of friction", "Linear wear [µm]"], "range": ["#333333", "#4a4a4a"]}}}},
     {"data": {"name": "cVA"}, "mark": {"type": "line", "strokeWidth": 2},
      "encoding": {"x": {"field": "d", "type": "quantitative", "scale": {"domain": [-171.72, 1143.94], "nice": false, "zero": false}, "axis": {"values": [0,100,200,300,400,500,600,700,800,900,1000], "format": ",d", "title": "Friction distance [m]", "offset": -44, "tickSize": 4, "labelPadding": 3, "titlePadding": 7}},
       "y": {"field": "v", "type": "quantitative", "scale": {"domain": [-0.2146, 1.122], "nice": false, "zero": false}, "axis": {"values": [0,0.1,0.2,0.3,0.4,0.5,0.6,0.7,0.8,0.9,1], "format": ".2f", "title": "Coefficient of friction", "offset": -68, "tickSize": 4, "labelPadding": 5, "titlePadding": 8}},
       "color": {"datum": "Coefficient of friction", "type": "nominal", "scale": {"domain": ["Coefficient of friction", "Linear wear [µm]"], "range": ["#333333", "#4a4a4a"]}, "legend": {"legendX": 328, "legendY": 190}}}}
    ]}
]
}
